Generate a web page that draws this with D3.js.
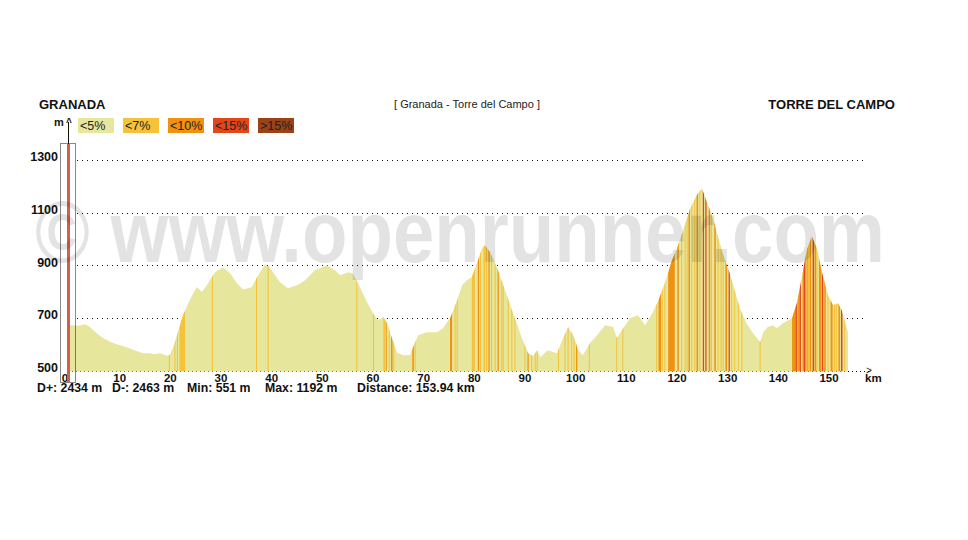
<!DOCTYPE html>
<html>
<head>
<meta charset="utf-8">
<script src="https://cdn.jsdelivr.net/npm/d3@7"></script>
<style>
  html, body { margin: 0; padding: 0; background: #fff; }
  svg { display: block; }
  text { font-family: "Liberation Sans", Arial, sans-serif; }
</style>
</head>
<body>
<svg id="chart" width="968" height="540"></svg>
<script>
// ---------- DATA ----------
const startName = "GRANADA";
const endName = "TORRE DEL CAMPO";
const routeTitle = "[ Granada - Torre del Campo ]";

const distanceKm = [0, 1, 2, 3.4, 4, 5, 6, 7, 8, 9, 10, 11.6, 13, 14.2, 15, 16.2, 17, 18.2, 19, 19.7,
  20.1, 21, 21.5, 22.7, 24, 25.4, 26.4, 27.4, 29, 30.6, 32, 33.3, 34.5, 35.4, 36.3, 37.3, 38.9, 39.9,
  41.8, 43.4, 45.2, 46.8, 48.7, 51.1, 52.7, 53.7, 55.3, 56.2, 57.6, 59, 60.2, 61.2, 62.2, 63, 63.6,
  64.9, 66.1, 67.5, 68.1, 69.1, 70.8, 72.8, 74, 75.4, 76.8, 77.8, 78.7, 79.7, 80.7, 81.7, 82.3, 83.3,
  84.7, 86.6, 88.2, 89.6, 90.8, 91.8, 92.6, 93.2, 94.7, 96.5, 97.7, 98.7, 99.7, 100.7, 101.6, 103,
  104.4, 106, 107.6, 108.3, 109.3, 110.9, 112.5, 112.9, 113.9, 115.3, 116.4, 117.8, 119.2, 120.2,
  121.4, 122.8, 124.1, 125.1, 126.1, 127.3, 129, 130.6, 132.6, 133.9, 135.2, 136.6, 137.2, 138.1,
  139.1, 139.9, 141.1, 142.9, 143.9, 144.9, 145.8, 146.8, 147.8, 148.8, 150, 151, 152, 152.7, 153.94];

const elevationM = [672, 672, 670, 676, 670, 653, 636, 623, 612, 604, 598, 589, 578, 570, 566, 566, 562, 566, 560, 556,
  560, 600, 634, 710, 767, 817, 798, 824, 873, 892, 869, 832, 809, 812, 817, 854, 904, 889,
  836, 813, 824, 843, 881, 900, 881, 862, 873, 869, 817, 760, 718, 691, 703, 680, 642,
  570, 558, 558, 589, 634, 646, 646, 661, 699, 767, 824, 843, 854, 907, 964, 976, 949,
  889, 786, 699, 623, 566, 555, 577, 551, 577, 566, 623, 665, 634, 577, 558, 604,
  634, 672, 665, 623, 653, 699, 710, 699, 672, 718, 760, 832, 919, 964,
  1033, 1116, 1166, 1192, 1139, 1078, 957, 869, 737, 680, 642, 608, 646, 665,
  672, 661, 680, 699, 760, 862, 957, 1010, 964, 874, 786, 748, 756, 729, 646];

// slope stripes: centre km, width km, gradient class (1:<7%, 2:<10%, 3:<15%, 4:>15%)
const stripeKm = [20.0, 21.1, 21.6, 22.55, 28.5, 37.2, 39.5, 57.0, 60.3, 62.4, 62.8, 63.4, 63.9, 64.3,
  68.1, 68.5, 75.6, 76.4, 76.8, 80.0, 81.0, 81.4, 82.15, 82.6, 83.1, 83.6, 84.3, 84.9, 85.6, 85.9,
  86.9, 87.6, 88.2, 90.2, 90.8, 91.5, 92.2, 92.6, 96.8, 98.1, 98.7, 99.4, 99.9, 100.4, 102.9, 108.3, 109.5,
  116.2, 116.8, 117.3, 117.8, 119.1, 120.4, 121.1, 121.8, 122.2, 122.6, 123.1, 123.7, 124.2, 124.7,
  125.4, 125.9, 126.6, 127.0, 127.7, 128.3, 128.9, 129.3, 129.9, 130.5, 131.0, 131.6, 132.3, 133.0, 136.6,
  143.2, 143.7, 144.1, 144.5, 145.1, 145.4, 145.9, 146.1, 146.5, 147.1, 147.5, 147.8, 148.4, 148.9,
  149.4, 150.0, 150.7, 151.3, 151.7, 152.2, 152.7, 153.3];
const stripeWidthKm = [0.2, 0.2, 0.2, 1.1, 0.2, 0.2, 0.2, 0.2, 0.2, 0.3, 0.2, 0.2, 0.3, 0.2,
  0.3, 0.2, 0.4, 0.2, 0.2, 0.6, 0.25, 0.2, 0.3, 0.2, 0.25, 0.2, 0.2, 0.25, 0.2, 0.2,
  0.2, 0.2, 0.2, 0.2, 0.25, 0.2, 0.2, 0.2, 0.2, 0.2, 0.2, 0.2, 0.2, 0.25, 0.2, 0.2, 0.2,
  0.2, 0.5, 0.2, 0.2, 1.3, 0.3, 0.2, 0.2, 0.2, 0.3, 0.2, 0.2, 0.3, 0.2,
  0.25, 0.25, 0.3, 0.2, 0.3, 0.2, 0.2, 0.2, 0.3, 0.25, 0.2, 0.2, 0.2, 0.2, 0.2,
  0.6, 0.3, 0.3, 0.3, 0.3, 0.3, 0.3, 0.3, 0.3, 0.3, 0.3, 0.2, 0.4, 0.3,
  0.3, 0.2, 0.4, 0.3, 0.2, 0.3, 0.3, 0.2];
const stripeClass = [1, 1, 1, 1, 1, 1, 1, 1, 1, 1, 2, 1, 2, 1,
  2, 1, 2, 1, 1, 1, 2, 1, 1, 1, 2, 1, 1, 2, 1, 1,
  1, 1, 1, 1, 2, 1, 1, 1, 1, 1, 1, 1, 1, 2, 1, 1, 1,
  1, 2, 1, 1, 2, 2, 1, 1, 1, 2, 1, 1, 2, 1,
  3, 3, 2, 1, 2, 1, 1, 1, 2, 3, 1, 1, 1, 1, 1,
  2, 3, 2, 3, 2, 3, 2, 1, 2, 3, 2, 1, 2, 3,
  2, 1, 2, 1, 1, 2, 3, 1];

const legendLabels = ["<5%", "<7%", "<10%", "<15%", ">15%"];
const legendColors = ["#e6e69d", "#f5c23a", "#f0920f", "#e4461a", "#9b4317"];

const yTicks = [500, 700, 900, 1100, 1300];
const xTicks = [0, 10, 20, 30, 40, 50, 60, 70, 80, 90, 100, 110, 120, 130, 140, 150];

const statLabels = ["D+: 2434 m", "D-: 2463 m", "Min: 551 m", "Max: 1192 m", "Distance: 153.94 km"];

// ---------- CHART ----------
const svg = d3.select("#chart");
const x = d3.scaleLinear().domain([0, 153.94]).range([68, 848]);
const y = d3.scaleLinear().domain([500, 1300]).range([370.6, 159.8]);
const base = 371.5;
const pts = distanceKm.map((d, i) => [d, elevationM[i]]);

svg.append("rect").attr("width", 968).attr("height", 540).attr("fill", "#fff");

// header
svg.append("text").attr("x", 39).attr("y", 109).attr("font-size", 13).attr("font-weight", "bold")
  .attr("fill", "#111").text(startName);
svg.append("text").attr("x", 895).attr("y", 109).attr("font-size", 13).attr("font-weight", "bold")
  .attr("text-anchor", "end").attr("fill", "#111").text(endName);
svg.append("text").attr("x", 467).attr("y", 108).attr("font-size", 11).attr("text-anchor", "middle")
  .attr("fill", "#222").text(routeTitle);

// legend
const lg = svg.append("g");
legendLabels.forEach((l, i) => {
  const lx = 78 + i * 45;
  lg.append("rect").attr("x", lx).attr("y", 118).attr("width", 36).attr("height", 15).attr("fill", legendColors[i]);
  lg.append("text").attr("x", lx + 2).attr("y", 130).attr("font-size", 12.5).attr("fill", "#222").text(l);
});

// grid lines
svg.append("g").selectAll("line").data(yTicks.filter(t => t > 500)).join("line")
  .attr("x1", 77).attr("x2", 867).attr("y1", d => Math.round(y(d)) + 0.5).attr("y2", d => Math.round(y(d)) + 0.5)
  .attr("stroke", "#111").attr("stroke-width", 1).attr("stroke-dasharray", "1,4");

// x axis dotted line + arrow
svg.append("line").attr("x1", 68).attr("x2", 870).attr("y1", 371.5).attr("y2", 371.5)
  .attr("stroke", "#111").attr("stroke-dasharray", "1,3");
svg.append("text").attr("x", 866).attr("y", 374).attr("font-size", 10).attr("fill", "#111").text(">");
svg.append("text").attr("x", 865).attr("y", 382).attr("font-size", 11.5).attr("font-weight", "bold")
  .attr("fill", "#111").text("km");

// area
const area = d3.area().x(d => x(d[0])).y0(base).y1(d => y(d[1])).curve(d3.curveLinear);
svg.append("defs").append("clipPath").attr("id", "clipArea")
  .append("path").attr("d", area(pts));
svg.append("path").attr("d", area(pts)).attr("fill", legendColors[0]);

const pxPerKm = x(1) - x(0);
svg.append("g").attr("clip-path", "url(#clipArea)").selectAll("rect")
  .data(stripeKm.map((k, i) => ({ k, w: stripeWidthKm[i], c: stripeClass[i] })))
  .join("rect")
  .attr("x", d => x(d.k) - Math.max(1, d.w * pxPerKm) / 2)
  .attr("width", d => Math.max(1, d.w * pxPerKm))
  .attr("y", 150).attr("height", base - 150)
  .attr("fill", d => legendColors[d.c]);

// y axis
svg.append("line").attr("x1", 68.5).attr("x2", 68.5).attr("y1", 122).attr("y2", 144).attr("stroke", "#111");
svg.append("text").attr("x", 66).attr("y", 126).attr("font-size", 10).attr("font-weight", "bold").attr("fill", "#111").text("^");
svg.append("text").attr("x", 54).attr("y", 126).attr("font-size", 11).attr("font-weight", "bold").attr("fill", "#111").text("m");

svg.append("g").selectAll("text").data(yTicks).join("text")
  .attr("x", 58).attr("y", d => y(d) + 1.5).attr("text-anchor", "end")
  .attr("font-size", 12.5).attr("font-weight", "bold").attr("fill", "#111").text(d => d);

svg.append("g").selectAll("text").data(xTicks).join("text")
  .attr("x", d => d === 0 ? x(d) - 3 : x(d) + 1).attr("y", 382).attr("text-anchor", "middle")
  .attr("font-size", 11.5).attr("font-weight", "bold").attr("fill", "#111").text(d => d);

// marker cursor + dotted box
svg.append("rect").attr("x", 67).attr("y", 144).attr("width", 3).attr("height", 238).attr("fill", "#d0604f");
svg.append("rect").attr("x", 60.5).attr("y", 143.5).attr("width", 15).attr("height", 239)
  .attr("fill", "none").attr("stroke", "#111").attr("stroke-dasharray", "1,1");

// stats
const statX = [37, 112, 187, 265, 357];
svg.append("g").selectAll("text").data(statLabels).join("text")
  .attr("x", (d, i) => statX[i]).attr("y", 392).attr("font-size", 12.3).attr("font-weight", "bold")
  .attr("fill", "#111").text(d => d);

// watermark
svg.append("text").attr("x", 35).attr("y", 262).attr("font-size", 88).attr("font-weight", "bold")
  .attr("textLength", 850).attr("lengthAdjust", "spacingAndGlyphs")
  .attr("fill", "#000").attr("fill-opacity", 0.11).text("© www.openrunner.com");
</script>
</body>
</html>
